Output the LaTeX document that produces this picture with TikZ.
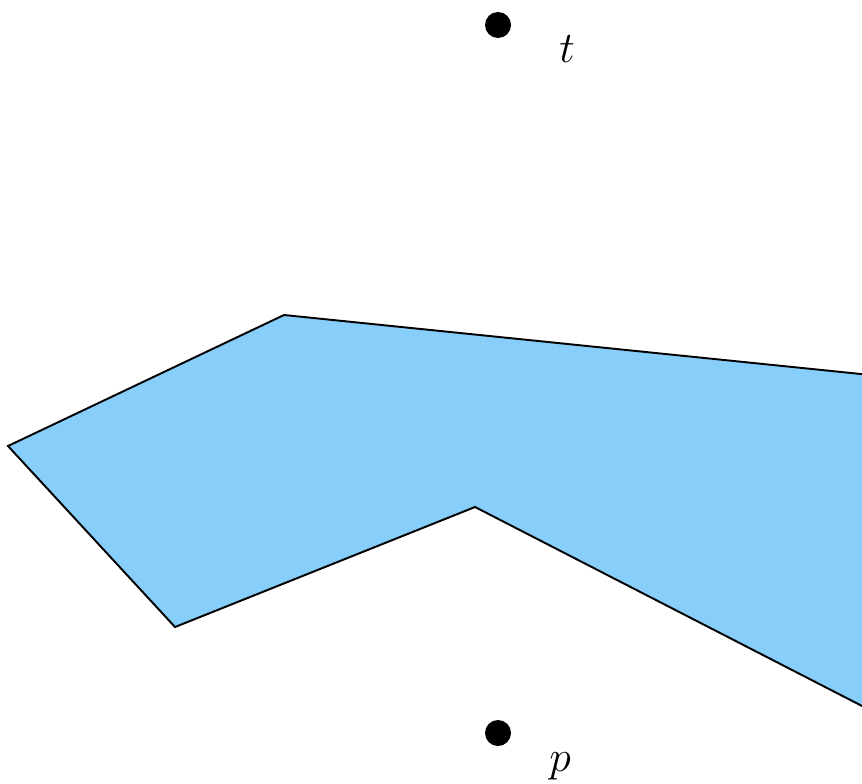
\documentclass[tikz,border=0pt]{standalone}
\usepackage{amsmath}
\usepackage{tikz}
\usetikzlibrary{positioning}

\definecolor{lightskyblue}{RGB}{135,206,250}

\begin{document}
\begin{tikzpicture}[
  region/.style={draw=black, fill=lightskyblue, line width=1.1pt, line join=miter},
  pt/.style={circle, fill=black, inner sep=0pt, minimum size=0.52cm},
  lbl/.style={font=\fontsize{32}{38}\selectfont, anchor=base, inner sep=0pt}
]
\useasboundingbox (0,0) rectangle (17.24,15.66);
\clip (0,0) rectangle (17.24,15.66);

% obstacle polygon
\draw[region] (0.16,6.74) -- (5.68,9.36) -- (18.0,8.10) -- (18.0,1.15)
  -- (9.5,5.52) -- (3.5,3.12) -- cycle;

% query points
\node[pt] (t) at (9.96,15.16) {};
\node[pt] (p) at (9.96,1.0) {};
\node[lbl] (tlabel) at (11.34,14.4) {$t$};
\node[lbl] (plabel) at (11.2,0.24) {$p$};
\end{tikzpicture}
\end{document}
